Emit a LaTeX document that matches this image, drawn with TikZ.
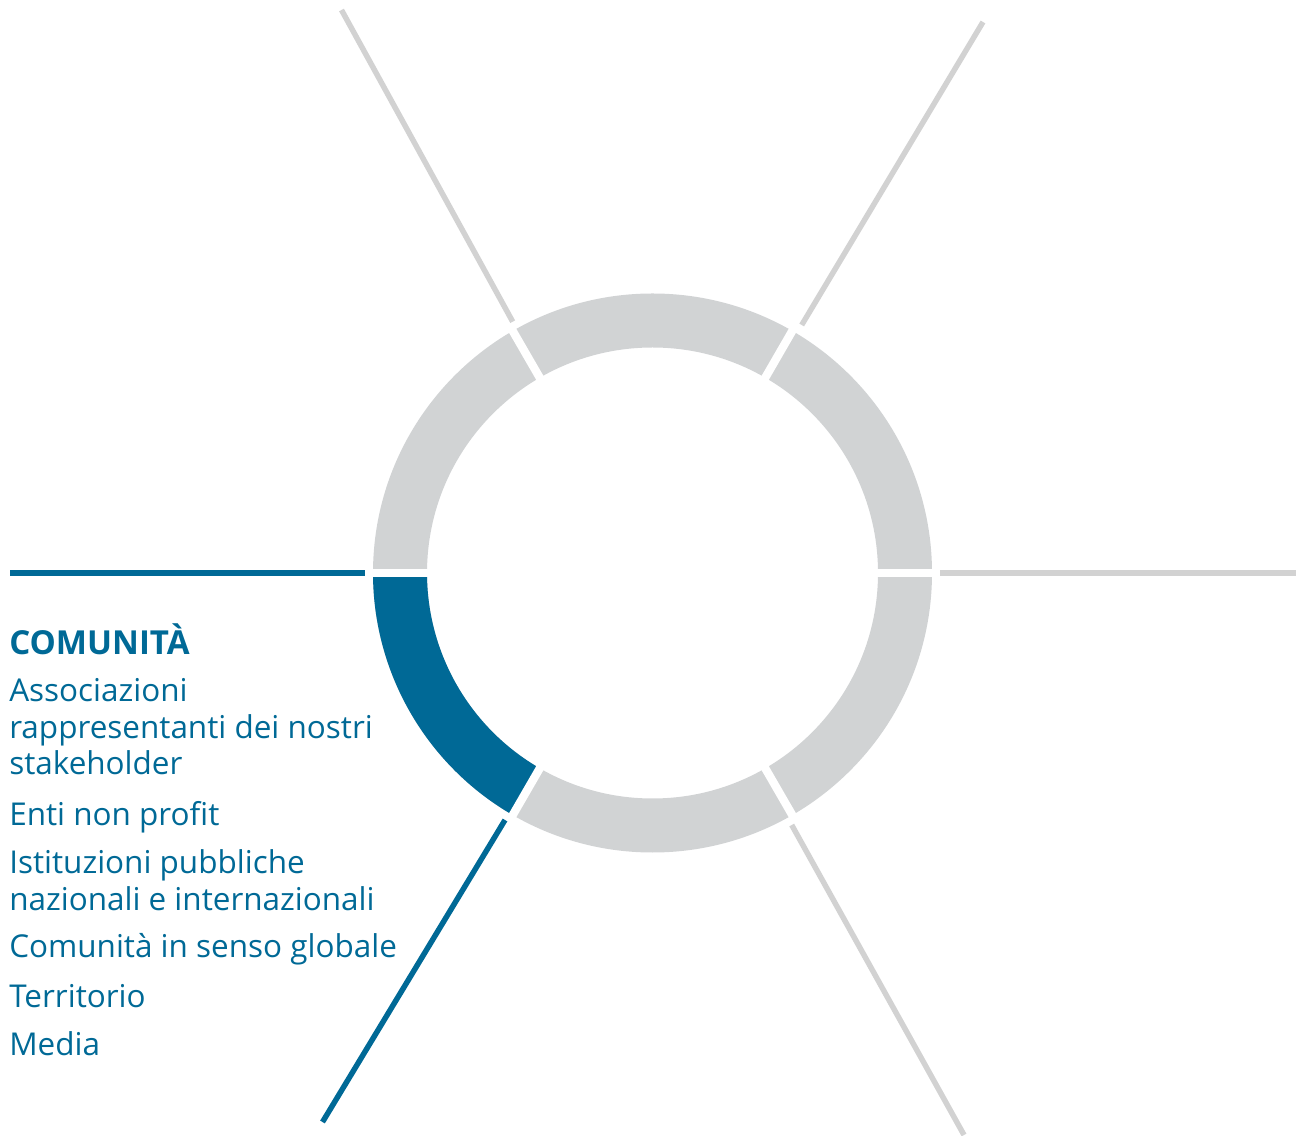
\documentclass[tikz,border=0pt]{standalone}
\usepackage{fontspec}
\setmainfont{Open Sans}
\usepackage{tikz}
\usetikzlibrary{calc}
\definecolor{ringgray}{RGB}{209,211,212}
\definecolor{spokegray}{RGB}{210,210,210}
\definecolor{combl}{RGB}{0,105,150}

\begin{document}
\begin{tikzpicture}[x=0.75pt,y=0.75pt,
    spoke/.style={line width=4.1pt},
    item/.style={anchor=base west,inner sep=0pt,text=combl,font=\fontsize{23.6}{27}\selectfont},
    head/.style={item,font=\fontsize{24.8}{27}\selectfont\bfseries}]
  \useasboundingbox (0,0) rectangle (1301,1135);
  \coordinate (c) at (652.5,562);
  % ring and gaps
  \fill[ringgray,even odd rule] (c) circle[radius=279.5] (c) circle[radius=225.5];
  \fill[combl] ($(c)+(180:279.5)$) arc[start angle=180,end angle=240,radius=279.5]
    -- ($(c)+(240:225.5)$) arc[start angle=240,end angle=180,radius=225.5] -- cycle;
  \foreach \a in {0,60,...,300}
    \draw[white,line width=6.2pt] ($(c)+(\a:215)$) -- ($(c)+(\a:290)$);
  % spokes
  \draw[spoke,spokegray] (512.7,813.3) -- (341.5,1125);
  \draw[spoke,spokegray] (801.7,810) -- (983,1113);
  \draw[spoke,spokegray] (940,562) -- (1296,562);
  \draw[spoke,spokegray] (791.7,310) -- (964,0);
  \draw[spoke,combl] (10,562) -- (365,562);
  \draw[spoke,combl] (505,315) -- (322.5,13);
  % text
  \node[head] (title) at (9,480) {COMUNITÀ};
  \foreach \y/\t [count=\i] in {433/Associazioni,396.5/rappresentanti dei nostri,
      360/stakeholder,310/Enti non profit,262/Istituzioni pubbliche,
      225/nazionali e internazionali,178/Comunità in senso globale,128/Territorio,80/Media}
    \node[item] (line\i) at (9,\y) {\t};
\end{tikzpicture}
\end{document}
